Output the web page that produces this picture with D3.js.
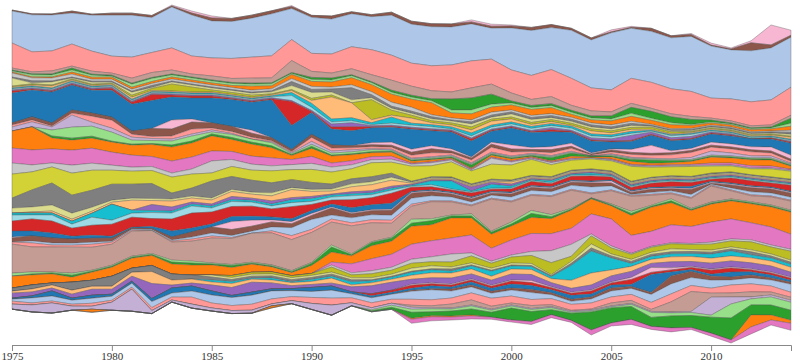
<!DOCTYPE html>
<html>
<head>
<meta charset="utf-8">
<script src="https://cdn.jsdelivr.net/npm/d3@7"></script>
<style>
  body { margin: 0; background: #fff; }
  .axis text { font: 11px Georgia, "Liberation Serif", "DejaVu Serif", serif; fill: #333; }
  .axis path, .axis line { stroke: #888; }
</style>
</head>
<body>
<svg id="chart" width="800" height="361"></svg>
<script>
const years = [1975,1976,1977,1978,1979,1980,1981,1982,1983,1984,
               1985,1986,1987,1988,1989,1990,1991,1992,1993,1994,
               1995,1996,1997,1998,1999,2000,2001,2002,2003,2004,
               2005,2006,2007,2008,2009,2010,2011,2012,2013,2014];
const tickYears = [1975, 1980, 1985, 1990, 1995, 2000, 2005, 2010];

// layer values per year, listed from the top of the stream to the bottom
const pinkTop = [0,0,0,0,0,0,0,0,1,2, 2,0,0,0,1,0,0,0,0,0, 0,0,0,2,2,1,0,0,0,0, 2,1,0,0,1,2,1,2,20,5];
const brownTop = [1,1,1,2,1,2,2,2,1,2, 3,3,3,3,2,2,3,2,2,3, 3,3,3,2,2,2,3,3,2,2, 1,1,3,2,2,1,1,8,3,2];
const lightBlueMain = [32,37,36,31,36,41,42,35,41,41, 37,37,39,42,31,36,35,33,33,40, 39,39,38,37,31,42,45,42,48,48, 57,50,51,51,55,52,49,51,52,50];
const salmonMain = [25,20,20,22,20,17,21,20,22,18, 18,20,21,22,21,18,19,22,25,25, 23,25,27,27,25,23,24,27,27,23, 22,25,26,25,25,20,22,24,25,28];

const uLightBrown = [2,2,3,2,3,2,5,5,4,3, 4,4,5,5,12,6,5,6,7,10, 9,8,7,10,10,8,6,7,5,5, 4,4,3,3,3,2,2,2,2,3];
const uGreen = [1,1,1,2,1,1,1,1,1,1, 1,1,1,1,1,2,2,1,1,2, 2,2,11,12,10,2,2,2,2,2, 3,6,7,6,5,2,1,1,1,5];
const uLightGreen = [1,2,2,2,2,1,3,3,2,2, 2,2,2,2,1,2,2,2,2,2, 2,2,3,4,3,2,2,2,2,2, 2,3,2,2,1,1,1,1,1,3];
const uOrange = [1,1,1,2,2,2,2,2,2,2, 2,2,4,3,4,5,5,7,7,8, 8,12,5,6,5,5,6,6,3,3, 4,5,4,4,3,2,2,2,2,4];
const uLightGray = [4,3,3,3,2,2,2,2,2,2, 2,2,2,2,3,3,2,3,3,4, 4,2,2,2,3,2,2,2,2,2, 2,2,1,1,1,1,1,1,1,2];
const uGray = [1,2,1,1,1,1,1,2,1,1, 1,1,1,1,4,3,3,12,3,2, 2,2,1,2,2,2,2,2,2,2, 2,2,1,1,1,1,1,1,1,2];
const uLightOlive = [8,1,3,1,2,1,3,1,2,2, 2,2,2,2,4,6,3,3,2,2, 2,2,2,3,2,3,3,2,2,2, 2,2,1,1,1,1,1,1,1,2];
const uOlive = [1,1,1,1,1,1,2,2,7,5, 2,2,2,1,1,2,2,0,20,5, 3,2,2,3,2,2,2,2,2,2, 2,2,2,2,1,1,1,1,1,1];
const uLightOrange = [1,1,2,1,1,1,2,1,1,1, 1,1,1,1,2,3,22,15,3,2, 5,2,2,3,4,3,2,2,1,3, 2,2,1,1,1,1,1,1,1,2];
const uCyan = [1,1,1,1,1,1,1,1,1,1, 1,1,1,1,3,4,3,3,2,6, 2,2,2,3,2,2,2,2,2,2, 2,2,1,1,1,1,1,1,1,1];
const uLightCyan = [1,1,1,1,1,1,1,1,1,1, 1,1,1,1,5,3,2,2,1,2, 2,2,1,2,2,2,2,2,2,2, 2,2,1,2,2,1,1,1,1,1];
const uPurple = [1,1,1,1,1,1,1,1,1,1, 1,1,1,1,1,1,3,4,1,1, 1,1,1,1,1,1,1,2,1,2, 2,5,2,2,2,1,1,0,0,1];
const uRed = [2,1,1,1,1,2,2,6,2,2, 2,1,1,1,24,1,2,4,1,1, 1,1,1,2,1,1,1,2,1,1, 1,1,1,1,1,1,1,0,1,1];

const blueMain = [30,27,31,25,23,27,27,28,23,21, 25,27,28,38,24,22,16,15,15,15, 20,15,17,16,11,17,15,15,11,12, 7,8,10,10,9,8,8,8,8,12];

const mLightPink = [0,0,0,0,0,0,0,0,9,3, 0,0,3,0,0,0,0,0,2,3, 3,3,2,1,2,4,2,3,3,1, 1,3,8,2,2,3,3,3,4,4];
const mBrown = [2,3,3,3,3,3,3,8,7,7, 5,5,4,3,2,3,3,2,2,2, 3,4,2,2,3,3,2,3,2,1, 2,2,2,2,2,2,2,2,2,2];
const mLightRed = [2,2,1,2,6,8,3,2,3,5, 2,2,2,1,1,4,3,2,2,2, 3,4,2,3,5,4,2,3,3,1, 2,3,3,4,5,4,4,4,3,2];
const mLightPurple = [4,5,3,12,4,4,3,2,2,2, 2,1,0,1,1,3,2,2,1,1, 1,1,1,1,1,1,1,1,1,0, 1,1,1,1,2,4,3,2,2,1];
const mLightGreen = [0,0,6,11,10,9,4,3,4,5, 2,3,3,3,1,2,2,2,2,1, 1,1,1,1,1,1,1,1,1,0, 1,1,1,1,1,1,1,1,1,1];
const mGreen = [0,0,2,2,2,1,1,1,2,2, 2,2,2,2,1,2,1,1,1,1, 1,1,1,3,1,1,1,3,3,1, 1,2,3,2,1,1,1,1,1,1];
const mOrange = [17,23,11,10,10,10,10,12,14,14, 15,12,12,10,4,8,7,6,4,4, 2,2,1,1,2,2,1,1,2,1, 2,3,2,2,3,6,5,6,6,3];
const mPink = [15,15,14,15,15,13,12,10,12,12, 10,8,8,8,5,7,4,4,3,3, 1,1,1,1,1,1,1,1,1,0, 1,1,1,1,1,2,2,2,2,1];
const mLightGray = [11,7,4,8,7,5,4,4,4,5, 12,7,6,5,5,6,5,4,3,3, 2,3,2,1,6,3,1,2,1,1, 1,1,1,1,1,1,1,1,1,1];

const yellowMain = [24,18,16,22,20,14,13,13,16,14, 8,10,10,12,10,13,12,10,14,11, 15,11,15,13,15,15,16,12,10,10, 10,15,10,9,10,7,6,6,8,8];

const gGray = [10,17,22,18,17,16,14,15,6,8, 17,13,12,10,8,7,5,5,5,4, 1,1,1,1,1,1,1,1,1,1, 1,1,1,1,1,1,1,1,1,1];
const gLightOlive = [5,5,6,6,4,2,2,2,2,2, 2,2,2,3,2,2,2,3,3,3, 1,1,1,1,1,1,1,1,1,1, 1,1,1,1,1,1,1,1,1,1];
const gLightOrange = [0,1,2,2,2,2,10,4,6,4, 4,5,4,5,8,5,3,5,6,6, 1,1,1,1,1,2,1,1,1,1, 1,1,1,1,1,1,1,1,1,1];
const gPurple = [0,0,0,0,0,0,0,6,4,2, 2,3,2,3,2,2,1,2,2,2, 1,1,1,4,2,2,1,1,1,1, 1,1,1,1,1,1,1,1,1,1];
const gCyan = [2,2,2,3,4,16,3,2,2,2, 2,2,2,2,3,3,2,2,2,2, 1,4,8,1,4,2,1,2,1,2, 1,1,1,1,1,1,1,1,1,1];
const gLightCyan = [6,4,6,4,8,4,4,6,6,7, 4,5,4,3,4,3,3,4,3,3, 1,2,1,1,1,1,1,1,1,1, 1,1,1,1,1,1,1,1,1,1];
const gRed = [10,12,12,8,10,12,10,8,12,15, 12,10,10,8,12,6,4,8,7,10, 4,3,2,4,2,3,4,3,4,5, 3,3,4,5,4,2,5,5,4,6];
const gBlue = [6,5,5,3,3,2,1,2,6,4, 3,5,4,3,3,3,3,5,5,6, 1,1,1,1,1,1,1,1,1,1, 1,1,1,1,2,1,1,1,1,1];
const gLightPink = [1,0,0,0,0,0,0,0,0,0, 0,8,6,2,2,2,1,1,1,1, 1,1,1,1,1,1,1,1,1,1, 2,1,1,1,1,1,1,1,1,1];
const gBrown = [4,5,5,4,4,3,1,1,3,5, 6,6,5,5,4,4,7,4,4,5, 5,4,3,3,2,3,3,3,3,4, 3,2,3,2,5,1,3,4,4,4];
const gLightBlue = [0,2,2,2,2,1,1,1,1,2, 3,2,2,4,8,10,4,5,5,5, 6,5,4,3,3,4,4,4,4,6, 4,1,2,2,3,1,2,3,3,3];
const gLightRed = [2,4,2,2,3,2,1,0,1,2, 2,1,0,2,4,3,3,3,3,3, 2,1,1,1,1,1,1,1,1,1, 1,1,1,1,1,1,1,1,1,1];

const lightBrownMain = [29,25,25,26,23,21,25,23,18,20, 25,26,29,32,31,30,23,28,19,14, 13,17,13,8,32,20,15,18,18,4, 13,15,10,5,10,16,8,6,8,9];

const nLightGreen = [3,2,1,2,1,1,1,1,2,2, 1,1,1,1,1,1,2,1,1,1, 4,2,1,2,1,2,3,2,1,0, 1,2,1,2,1,1,1,1,1,1];
const nGreen = [0,1,1,2,1,1,1,1,2,2, 1,2,1,1,1,2,5,1,3,3, 3,4,2,2,2,2,4,2,1,1, 1,2,1,2,1,1,1,1,1,1];
const nOrange = [12,10,9,5,8,9,10,10,10,10, 10,8,8,5,3,8,10,8,13,13, 18,16,20,17,14,14,16,15,18,15, 13,20,24,22,16,18,18,19,20,22];
const nPink = [0,0,0,0,0,0,0,0,0,0, 0,0,0,0,0,0,3,9,12,13, 15,16,16,18,13,15,18,17,16,20, 27,18,15,18,17,20,20,17,18,15];
const nLightGray = [0,0,0,0,0,0,0,0,0,0, 0,0,0,0,0,0,2,2,3,3, 4,5,8,3,2,2,4,12,12,2, 2,1,1,1,1,2,2,2,2,2];
const nOlive = [0,0,0,0,0,0,0,0,0,0, 0,2,2,2,2,2,5,3,4,4, 5,4,5,7,5,6,8,12,5,8, 6,5,5,5,5,6,6,8,7,9];
const nLightOlive = [0,0,0,0,0,0,0,0,0,0, 2,2,2,2,2,2,2,2,2,2, 3,3,2,2,2,2,2,1,2,4, 2,2,2,3,2,2,2,2,2,2];
const nGray = [3,4,2,8,6,10,4,6,6,4, 3,2,2,2,2,2,2,2,1,1, 1,1,2,1,1,1,1,1,2,3, 2,2,2,2,2,2,2,3,2,2];
const nCyan = [0,0,0,0,0,0,0,0,0,0, 2,2,1,2,1,2,2,3,2,2, 3,3,2,3,5,3,3,2,15,22, 12,3,3,3,3,4,5,3,3,3];
const nLightOrange = [2,3,3,4,3,3,4,12,5,4, 3,4,3,3,3,3,5,2,3,3, 4,5,5,5,4,5,5,4,8,12, 6,5,4,5,5,5,5,5,5,5];
const nPurple = [5,4,3,4,6,5,5,15,3,3, 6,8,10,6,3,3,3,5,8,8, 5,5,6,5,5,6,6,4,4,5, 6,6,4,6,5,6,6,6,6,5];
const nLightPink = [0,0,0,0,0,0,0,0,0,0, 0,0,0,0,0,0,0,0,0,0, 1,1,1,1,1,1,2,1,1,1, 1,2,5,2,1,1,1,1,1,1];
const nRed = [0,0,0,0,0,0,0,0,0,0, 0,0,0,0,0,0,0,0,2,2, 3,2,2,2,2,3,3,2,2,3, 2,5,2,2,2,4,4,2,2,2];
const nBlue = [1,2,5,2,3,2,2,3,5,5, 4,2,3,2,2,4,4,2,2,2, 2,3,2,3,3,4,4,3,4,3, 3,2,18,4,2,2,5,3,3,2];
const nBrown = [0,0,0,0,0,0,0,0,0,0, 0,0,0,0,0,0,0,0,0,0, 1,1,2,2,2,2,3,2,2,2, 3,2,2,8,6,4,3,3,2,2];
const nLightBlue = [2,5,5,4,5,4,4,6,4,6, 8,8,9,8,6,6,8,4,5,5, 8,10,7,6,5,6,7,4,3,4, 6,6,8,10,8,8,5,6,6,8];
const nLightRed = [3,2,2,2,3,2,2,3,3,7, 5,5,6,5,4,6,7,5,5,4, 6,6,6,7,8,7,6,6,6,6, 6,6,7,8,6,5,8,8,6,5];
const nLightBrown = [0,0,0,0,0,0,0,0,0,0, 0,0,0,0,0,0,0,0,0,0, 2,2,4,5,3,2,3,2,1,1, 3,3,2,10,20,4,4,5,3,3];
const nLightPurple = [5,7,10,4,3,8,22,3,2,4, 3,3,3,2,3,6,10,3,2,2, 2,1,1,1,1,1,1,1,1,1, 1,1,1,1,1,18,7,2,2,2];
const nLightGreen2 = [0,0,0,0,0,0,0,0,0,0, 0,0,0,0,0,0,0,0,1,2, 3,3,2,3,2,2,2,2,1,1, 1,2,5,3,3,2,14,6,8,8];
const nGreenBig = [0,0,0,0,0,0,0,0,0,0, 0,0,0,0,0,0,0,0,1,2, 6,4,5,6,5,12,10,5,7,18, 15,13,9,12,12,16,22,10,10,10];
const nOrangeLow = [0,0,0,0,3,0,0,0,0,0, 0,0,0,2,0,0,0,0,0,0, 1,1,1,1,0,0,0,0,0,0, 0,0,0,0,0,0,0,12,5,3];
const nPinkLow = [0,0,0,0,0,0,0,0,0,0, 0,0,0,0,0,0,0,0,0,0, 4,4,3,3,2,2,3,3,2,5, 3,5,3,4,2,3,3,7,5,7];

const series = {
  pinkTop, brownTop, lightBlueMain, salmonMain,
  uLightBrown, uGreen, uLightGreen, uOrange, uLightGray, uGray, uLightOlive, uOlive,
  uLightOrange, uCyan, uLightCyan, uPurple, uRed,
  blueMain,
  mLightPink, mBrown, mLightRed, mLightPurple, mLightGreen, mGreen, mOrange, mPink, mLightGray,
  yellowMain,
  gGray, gLightOlive, gLightOrange, gPurple, gCyan, gLightCyan, gRed, gBlue, gLightPink,
  gBrown, gLightBlue, gLightRed,
  lightBrownMain,
  nLightGreen, nGreen, nOrange, nPink, nLightGray, nOlive, nLightOlive, nGray, nCyan,
  nLightOrange, nPurple, nLightPink, nRed, nBlue, nBrown, nLightBlue, nLightRed,
  nLightBrown, nLightPurple, nLightGreen2, nGreenBig, nOrangeLow, nPinkLow
};
const keys = Object.keys(series);

// fill colours, in the same order as the keys
const palette = [
  '#f7b6d2', '#8c564b', '#aec7e8', '#ff9896',
  '#c49c94', '#2ca02c', '#98df8a', '#ff7f0e', '#c7c7c7', '#7f7f7f', '#dbdb8d', '#bcbd22',
  '#ffbb78', '#17becf', '#9edae5', '#9467bd', '#d62728',
  '#1f77b4',
  '#f7b6d2', '#8c564b', '#ff9896', '#c5b0d5', '#98df8a', '#2ca02c', '#ff7f0e', '#e377c2', '#c7c7c7',
  '#d2d136',
  '#7f7f7f', '#dbdb8d', '#ffbb78', '#9467bd', '#17becf', '#9edae5', '#d62728', '#1f77b4', '#f7b6d2',
  '#8c564b', '#aec7e8', '#ff9896',
  '#c49c94',
  '#98df8a', '#2ca02c', '#ff7f0e', '#e377c2', '#c7c7c7', '#bcbd22', '#dbdb8d', '#7f7f7f', '#17becf',
  '#ffbb78', '#9467bd', '#f7b6d2', '#d62728', '#1f77b4', '#8c564b', '#aec7e8', '#ff9896',
  '#c49c94', '#c5b0d5', '#98df8a', '#2ca02c', '#ff7f0e', '#e377c2'
];
const color = d3.scaleOrdinal().domain(keys).range(palette);

const table = years.map((year, i) => {
  const row = { year };
  keys.forEach((k) => { row[k] = series[k][i]; });
  return row;
});

const width = 800;
const height = 361;
const margin = { top: 5, right: 9, bottom: 18, left: 12 };

const layers = d3.stack()
  .keys(keys)
  .order(d3.stackOrderNone)
  .offset(d3.stackOffsetWiggle)(table);

const x = d3.scaleLinear()
  .domain(d3.extent(years))
  .range([margin.left, width - margin.right]);

// first key sits at the top of the stream
const y = d3.scaleLinear()
  .domain([
    d3.min(layers, (l) => d3.min(l, (d) => d[0])),
    d3.max(layers, (l) => d3.max(l, (d) => d[1]))
  ])
  .range([margin.top, height - margin.bottom]);

const area = d3.area()
  .x((d) => x(d.data.year))
  .y0((d) => y(d[0]))
  .y1((d) => y(d[1]));

const svg = d3.select('#chart');

svg.append('g')
  .selectAll('path')
  .data(layers)
  .join('path')
  .attr('d', area)
  .attr('fill', (d) => color(d.key))
  .attr('stroke', 'rgba(80,80,80,0.5)')
  .attr('stroke-width', 0.7);

svg.append('g')
  .attr('class', 'axis')
  .attr('transform', `translate(0, ${height - 16})`)
  .call(
    d3.axisBottom(x)
      .tickValues(tickYears)
      .tickFormat(d3.format('d'))
      .tickPadding(1)
  );
</script>
</body>
</html>
